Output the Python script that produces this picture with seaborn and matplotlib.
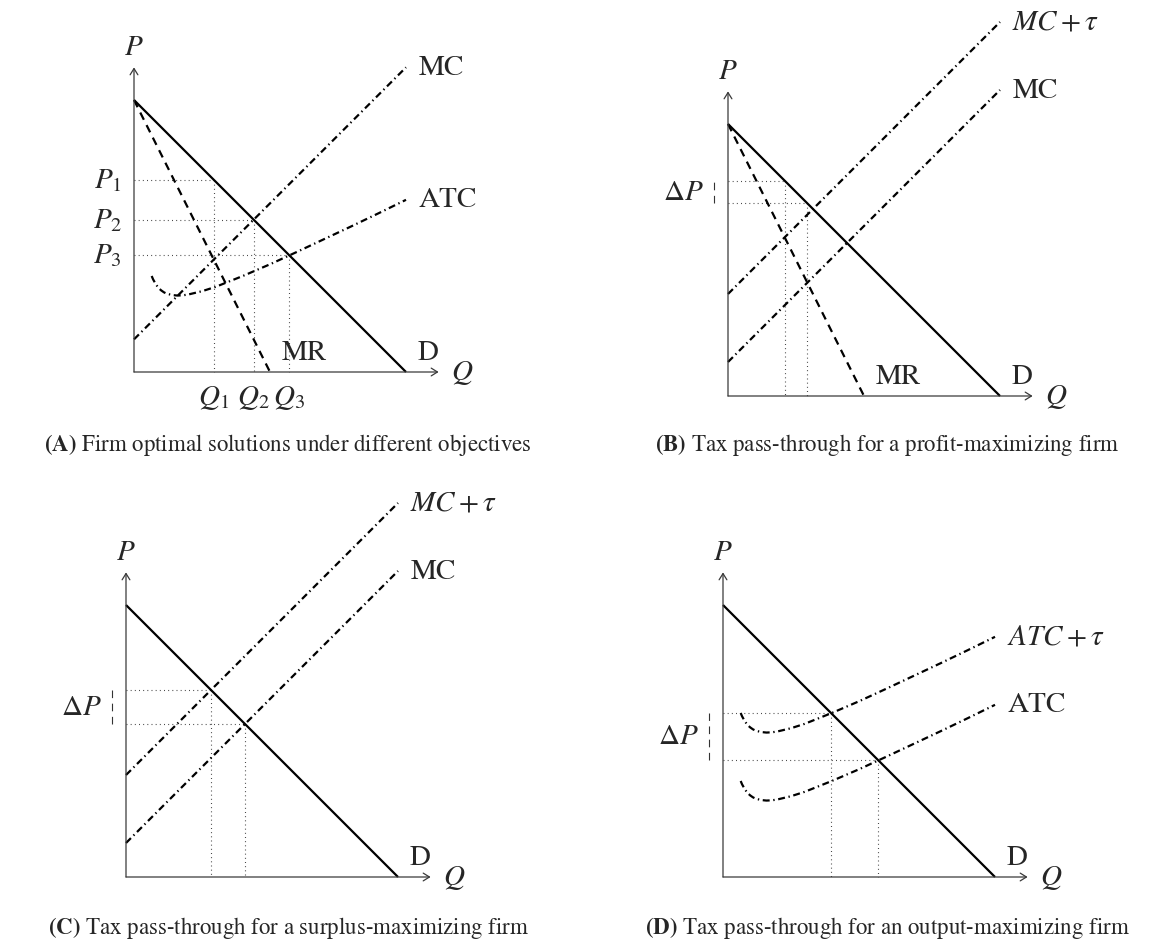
import matplotlib
matplotlib.use("Agg")
import matplotlib.pyplot as plt
import seaborn as sns

# ---- curve data (quantity Q, price P) ----
demand_q = [0.0, 10.0]
demand_p = [10.0, 0.0]

mr_q = [0.0, 5.0]
mr_p = [10.0, 0.0]

mc_q = [0.0, 10.0]
mc_p_a = [1.2, 11.2]
mc_p = [1.25, 11.25]
mc_tax_p = [3.75, 13.75]

atc_q = [0.65, 0.7, 0.8, 0.9, 1.0, 1.1, 1.2, 1.4, 1.6, 1.8, 2.0, 2.5, 3.0,
         4.0, 5.0, 6.0, 7.0, 8.0, 9.0, 10.0]
atc_p = [3.53, 3.41, 3.23, 3.09, 3.00, 2.93, 2.88, 2.83, 2.81, 2.82, 2.85,
         2.97, 3.13, 3.53, 3.96, 4.42, 4.89, 5.36, 5.84, 6.33]
atc_tax_p = [6.03, 5.91, 5.73, 5.59, 5.50, 5.43, 5.38, 5.33, 5.31, 5.32, 5.35,
             5.47, 5.63, 6.03, 6.46, 6.92, 7.39, 7.86, 8.34, 8.83]

# optimal points for each objective
opt_q_a = [2.93, 4.40, 5.70]
opt_p_a = [7.07, 5.60, 4.30]
price_labels_a = ["$P_1$", "$P_2$", "$P_3$"]
qty_labels_a = ["$Q_1$", "$Q_2$", "$Q_3$"]

opt_q_b = [2.08, 2.92]
opt_p_b = [7.92, 7.08]

opt_q_c = [3.12, 4.38]
opt_p_c = [6.88, 5.62]

opt_q_d = [3.97, 5.70]
opt_p_d = [6.03, 4.30]

captions = [
    ("(A)", "Firm optimal solutions under different objectives"),
    ("(B)", "Tax pass-through for a profit-maximizing firm"),
    ("(C)", "Tax pass-through for a surplus-maximizing firm"),
    ("(D)", "Tax pass-through for an output-maximizing firm"),
]

# ---- styling ----
sns.set_style("white")
plt.rcParams["font.family"] = ["STIXGeneral", "DejaVu Serif"]
plt.rcParams["mathtext.fontset"] = "stix"
plt.rcParams["lines.scale_dashes"] = False

LABEL_FS = 21
CAPTION_FS = 16.5
CURVE_LW = 1.6
DASHDOT = (0, (5.0, 2.6, 1.0, 2.6))
DASHED = (0, (5.8, 4.3))
DOTTED = (0, (0.7, 2.3))
AXIS_LEN = 11.2

W, H = 1174, 945
S = 27.2  # pixels per data unit
XL = (-2.5, 14.5)
YL = (-1.8, 14.6)

fig = plt.figure(figsize=(W / 100, H / 100), dpi=100)


def make_axes(ox, oy):
    left = ox + XL[0] * S
    bottom = oy - YL[0] * S
    w = (XL[1] - XL[0]) * S
    h = (YL[1] - YL[0]) * S
    ax = fig.add_axes([left / W, 1 - bottom / H, w / W, h / H])
    ax.set_xlim(XL)
    ax.set_ylim(YL)
    ax.set_axis_off()
    return ax


def curve(ax, q, p, style="-", lw=CURVE_LW, color="black"):
    sns.lineplot(x=q, y=p, ax=ax, color=color, linewidth=lw,
                 sort=False, estimator=None)
    line = ax.lines[-1]
    line.set_linestyle(style)
    line.set_dash_capstyle("butt")
    line.set_solid_capstyle("butt")
    return line


def frame(ax):
    arrow = dict(arrowstyle="->,head_length=0.45,head_width=0.28",
                 lw=0.9, color="#3a3a3a", shrinkA=0, shrinkB=0)
    ax.annotate("", xy=(AXIS_LEN, 0), xytext=(0, 0), arrowprops=arrow)
    ax.annotate("", xy=(0, AXIS_LEN), xytext=(0, 0), arrowprops=arrow)
    ax.text(0, 11.95, "$P$", ha="center", va="center", fontsize=LABEL_FS)
    ax.text(12.05, 0.0, "$Q$", ha="center", va="center", fontsize=LABEL_FS)


def end_label(ax, q, p, text):
    ax.text(q[-1] + 0.45, p[-1], text, ha="left", va="center",
            fontsize=LABEL_FS)


def foot_label(ax, q, text):
    ax.text(q[-1] + 0.44, 0.72, text, ha="left", va="center",
            fontsize=LABEL_FS)


def guides(ax, qs, ps):
    for q, p in zip(qs, ps):
        curve(ax, [0, q], [p, p], DOTTED, lw=0.8, color="#444444")
        curve(ax, [q, q], [p, 0], DOTTED, lw=0.8, color="#444444")


def delta_p(ax, ps):
    lo, hi = min(ps), max(ps)
    curve(ax, [-0.5, -0.5], [lo, hi], (0, (5.5, 4.0)), lw=0.8,
          color="#333333")
    ax.text(-0.9, (lo + hi) / 2, r"$\Delta P$", ha="right", va="center",
            fontsize=LABEL_FS)


def demand(ax):
    curve(ax, demand_q, demand_p, "-")
    foot_label(ax, demand_q, "D")


# ---- (A) firm optima under different objectives ----
ax_a = make_axes(134, 373)
guides(ax_a, opt_q_a, opt_p_a)
frame(ax_a)
demand(ax_a)
curve(ax_a, mr_q, mr_p, DASHED)
foot_label(ax_a, mr_q, "MR")
curve(ax_a, mc_q, mc_p_a, DASHDOT)
end_label(ax_a, mc_q, mc_p_a, "MC")
curve(ax_a, atc_q, atc_p, DASHDOT)
end_label(ax_a, atc_q, atc_p, "ATC")
for q, p, pl, ql in zip(opt_q_a, opt_p_a, price_labels_a, qty_labels_a):
    ax_a.text(-0.44, p, pl, ha="right", va="center", fontsize=LABEL_FS)
    ax_a.text(q, -0.93, ql, ha="center", va="center", fontsize=LABEL_FS)

# ---- (B) profit-maximizing firm ----
ax_b = make_axes(728, 397)
guides(ax_b, opt_q_b, opt_p_b)
frame(ax_b)
demand(ax_b)
curve(ax_b, mr_q, mr_p, DASHED)
foot_label(ax_b, mr_q, "MR")
curve(ax_b, mc_q, mc_p, DASHDOT)
end_label(ax_b, mc_q, mc_p, "MC")
curve(ax_b, mc_q, mc_tax_p, DASHDOT)
end_label(ax_b, mc_q, mc_tax_p, r"$MC + \tau$")
delta_p(ax_b, opt_p_b)

# ---- (C) surplus-maximizing firm ----
ax_c = make_axes(126, 878)
guides(ax_c, opt_q_c, opt_p_c)
frame(ax_c)
demand(ax_c)
curve(ax_c, mc_q, mc_p, DASHDOT)
end_label(ax_c, mc_q, mc_p, "MC")
curve(ax_c, mc_q, mc_tax_p, DASHDOT)
end_label(ax_c, mc_q, mc_tax_p, r"$MC + \tau$")
delta_p(ax_c, opt_p_c)

# ---- (D) output-maximizing firm ----
ax_d = make_axes(723, 878)
guides(ax_d, opt_q_d, opt_p_d)
frame(ax_d)
demand(ax_d)
curve(ax_d, atc_q, atc_p, DASHDOT)
end_label(ax_d, atc_q, atc_p, "ATC")
curve(ax_d, atc_q, atc_tax_p, DASHDOT)
end_label(ax_d, atc_q, atc_tax_p, r"$ATC + \tau$")
delta_p(ax_d, opt_p_d)

# ---- captions ----
cap_pos = [(288, 451), (887, 451), (288, 934), (887, 934)]
for (tag, text), (cx, cy) in zip(captions, cap_pos):
    fig.text(cx / W, 1 - cy / H, r"$\mathbf{" + tag + "}$ " + text,
             ha="center", va="baseline", fontsize=CAPTION_FS)

fig.savefig("out.png", dpi=100)
